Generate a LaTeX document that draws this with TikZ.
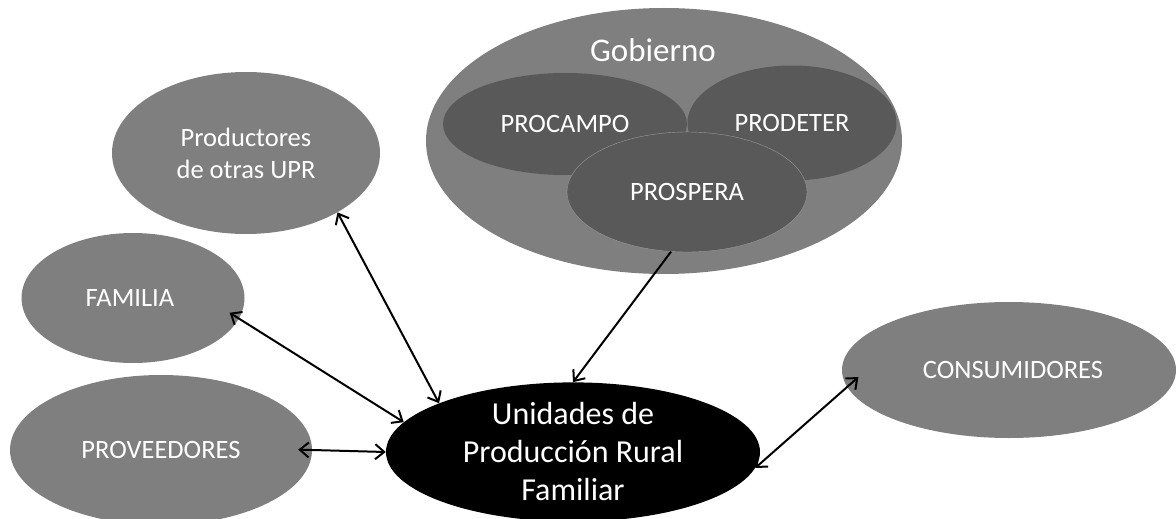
\documentclass[tikz,border=0pt]{standalone}
\usepackage{fontspec}
\setmainfont{Carlito}
\definecolor{grayActor}{HTML}{7F7F7F}
\definecolor{grayProgram}{HTML}{595959}
\usetikzlibrary{
  shapes.geometric,
  arrows.meta
}

\begin{document}
\begin{tikzpicture}[
    % Canvas.
    x = 1pt, y = -1pt,
    % Actors.
    actor/.style = {
      ellipse,
      fill = grayActor,
      text = white,
      inner sep = 0pt,
      align = center,
      font = \fontsize{26.5}{32}\selectfont
    },
    program/.style = {
      actor,
      fill = grayProgram
    },
    unit/.style = {
      actor,
      fill = black,
      font = \fontsize{32}{38}\selectfont
    },
    title/.style = {
      text = white,
      font = \fontsize{33}{36}\selectfont
    },
    % Links.
    link/.style = {
      {Straight Barb[length = 9pt, width = 15pt]}-{Straight Barb[length = 9pt, width = 15pt]},
      line width = 2pt
    },
    single link/.style = {
      -{Straight Barb[length = 9pt, width = 15pt]},
      line width = 2pt
    }
  ]
  \useasboundingbox (0,0) rectangle (1176,519);

  % Government.
  \node[actor, minimum width = 476pt, minimum height = 266pt] (gob) at (664,141) {};
  \node[title] (gobTitle) at (653,50) {Gobierno};
  \node[program, minimum width = 244pt, minimum height = 102pt] (procampo) at (565,124) {PROCAMPO};
  \node[program, minimum width = 209pt, minimum height = 115pt] (prodeter) at (792,123) {PRODETER};
  \node[program, draw = grayActor!80, minimum width = 240pt, minimum height = 120pt] (prospera) at (687,192) {PROSPERA};

  % Actors.
  \node[actor, minimum width = 268pt, minimum height = 162pt] (prod) at (246,153) {Productores\\de otras UPR};
  \node[actor, minimum width = 223pt, minimum height = 130pt] (fam) at (133,298) {\hspace*{-6pt}FAMILIA};
  \node[actor, minimum width = 302pt, minimum height = 150pt] (prov) at (161,450) {PROVEEDORES};
  \node[actor, minimum width = 334pt, minimum height = 136pt] (cons) at (1009,370) {\hspace*{8pt}CONSUMIDORES};

  % Rural production units.
  \node[unit, minimum width = 374pt, minimum height = 134pt] (upr) at (573,452) {Unidades de\\Producción Rural\\Familiar};

  % Links.
  \draw[link] (prod.-33) -- (upr.160);
  \draw[link, shorten <= -11pt] (fam.-11) -- (upr.170);
  \draw[link, shorten <= -14pt] (prov.0) -- (upr.180);
  \draw[single link] (prospera.-105) -- (upr.90);
  \draw[link, shorten <= -15pt] (cons.186) -- (upr.-5);
\end{tikzpicture}
\end{document}
